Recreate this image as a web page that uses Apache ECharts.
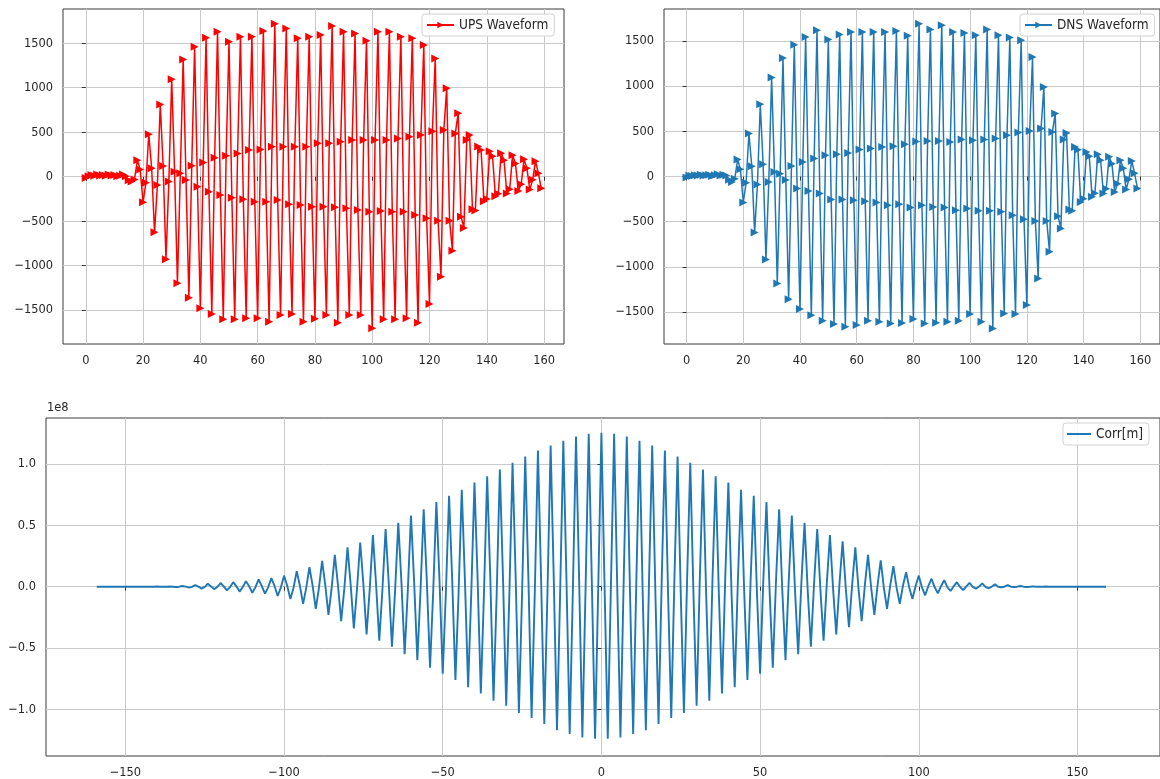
<!DOCTYPE html>
<html><head><meta charset="utf-8">
<script src="https://cdn.jsdelivr.net/npm/echarts@6/dist/echarts.min.js"></script>
<style>html,body{margin:0;padding:0;background:#fff}#c{width:1160px;height:779px}</style>
</head><body><div id="c"></div>
<script>
// UPS waveform samples (index 0..159)
const upsValues = [
  -15, 5, 20, 10, 25, 15, 20, 10, 25, 15,
  20, 5, 10, 25, 5, -40, -55, -30, 185, 80,
  -288, -67, 478, 95, -625, -93, 812, 120, -928, -55,
  1095, 56, -1198, 38, 1318, -37, -1359, 123, 1460, -112,
  -1479, 161, 1562, -168, -1543, 213, 1629, -205, -1602, 236,
  1517, -236, -1602, 262, 1573, -254, -1591, 300, 1573, -281,
  -1591, 307, 1637, -281, -1629, 337, 1720, -262, -1554, 337,
  1667, -310, -1543, 337, 1555, -317, -1629, 337, 1573, -337,
  -1595, 375, 1592, -337, -1554, 375, 1693, -344, -1640, 393,
  1629, -355, -1554, 412, 1611, -374, -1554, 412, 1528, -393,
  -1703, 412, 1629, -386, -1602, 412, 1629, -393, -1602, 430,
  1573, -393, -1591, 448, 1555, -430, -1640, 468, 1480, -468,
  -1430, 512, 1330, -494, -1124, 524, 993, -494, -831, 486,
  712, -449, -575, 412, 470, -366, -380, 340, 300, -275,
  -250, 285, 230, -220, -190, 265, 185, -188, -140, 240,
  150, -160, -85, 195, 95, -145, -35, 175, 40, -130
];
// DNS waveform samples (index 0..159)
const dnsValues = [
  -10, 10, 5, 15, 10, 20, 10, 15, 20, 5,
  15, 25, 10, 20, 10, -35, -60, -25, 188, 80,
  -287, -70, 475, 114, -619, -88, 799, 136, -917, -60,
  1094, 51, -1182, 30, 1311, -40, -1356, 117, 1458, -133,
  -1466, 161, 1543, -159, -1533, 199, 1617, -188, -1595, 235,
  1514, -254, -1632, 246, 1569, -254, -1662, 261, 1598, -262,
  -1643, 298, 1598, -273, -1595, 309, 1598, -287, -1606, 327,
  1598, -317, -1625, 335, 1609, -306, -1621, 357, 1555, -343,
  -1575, 387, 1690, -317, -1625, 393, 1624, -336, -1617, 393,
  1672, -343, -1606, 382, 1598, -372, -1595, 409, 1587, -354,
  -1521, 401, 1561, -380, -1606, 409, 1624, -380, -1680, 420,
  1561, -391, -1514, 456, 1536, -428, -1521, 486, 1506, -472,
  -1422, 504, 1322, -491, -1127, 530, 990, -491, -833, 493,
  696, -439, -575, 410, 482, -365, -380, 327, 295, -281,
  -245, 272, 225, -225, -185, 246, 180, -188, -135, 217,
  140, -170, -80, 180, 90, -144, -30, 172, 35, -133
];
// Corr[m] in units of 1e8, lags -159..-1
const corrNegLags = [
  0, 0, 0, 0, 0, 0, 0, 0, 0, 0,
  0, 0, 0, 0, 0, 0, 0, 0, 0, 0.001,
  0, -0.001, 0, 0.002, 0, -0.003, 0, 0.006, 0, -0.008,
  -0.001, 0.013, 0.001, -0.016, -0.001, 0.024, 0.002, -0.02, -0.002, 0.03,
  0.002, -0.03, -0.003, 0.037, 0.003, -0.04, -0.003, 0.045, 0.004, -0.05,
  -0.004, 0.059, 0.005, -0.057, -0.005, 0.07, 0.006, -0.076, -0.006, 0.09,
  0.008, -0.10, -0.008, 0.126, 0.008, -0.14, -0.01, 0.16, 0.01, -0.18,
  -0.01, 0.21, 0.01, -0.23, -0.01, 0.26, 0.01, -0.28, -0.015, 0.32,
  0.015, -0.34, -0.015, 0.36, 0.02, -0.39, -0.02, 0.42, 0.02, -0.44,
  -0.025, 0.47, 0.025, -0.49, -0.03, 0.52, 0.03, -0.55, -0.03, 0.58,
  0.035, -0.60, -0.035, 0.63, 0.04, -0.66, -0.04, 0.69, 0.04, -0.71,
  -0.045, 0.74, 0.045, -0.76, -0.05, 0.79, 0.05, -0.82, -0.05, 0.85,
  0.055, -0.87, -0.055, 0.90, 0.06, -0.93, -0.06, 0.955, 0.06, -0.97,
  -0.06, 1.01, 0.06, -1.03, -0.06, 1.06, 0.06, -1.07, -0.055, 1.11,
  0.055, -1.12, -0.05, 1.15, 0.05, -1.17, -0.045, 1.19, 0.04, -1.20,
  -0.035, 1.225, 0.03, -1.23, -0.02, 1.247, 0.015, -1.24, -0.005
];
// Corr[m] in units of 1e8, lags 0..159
const corrPosLags = [
  1.255, -0.005, -1.24, 0.015, 1.247, -0.02, -1.23, 0.03, 1.225, -0.035,
  -1.20, 0.04, 1.19, -0.045, -1.17, 0.05, 1.15, -0.05, -1.12, 0.055,
  1.11, -0.055, -1.07, 0.06, 1.06, -0.06, -1.03, 0.06, 1.01, -0.06,
  -0.97, 0.06, 0.955, -0.06, -0.93, 0.06, 0.90, -0.055, -0.87, 0.055,
  0.85, -0.05, -0.82, 0.05, 0.79, -0.05, -0.76, 0.045, 0.74, -0.045,
  -0.71, 0.04, 0.69, -0.04, -0.66, 0.04, 0.63, -0.035, -0.60, 0.035,
  0.58, -0.03, -0.55, 0.03, 0.52, -0.03, -0.49, 0.025, 0.47, -0.025,
  -0.44, 0.02, 0.42, -0.02, -0.39, 0.02, 0.37, -0.015, -0.33, 0.015,
  0.32, -0.015, -0.28, 0.01, 0.26, -0.01, -0.23, 0.01, 0.215, -0.01,
  -0.18, 0.01, 0.167, -0.008, -0.14, 0.008, 0.118, -0.008, -0.10, 0.006,
  0.09, -0.006, -0.07, 0.005, 0.065, -0.005, -0.054, 0.004, 0.053, -0.004,
  -0.035, 0.003, 0.037, -0.003, -0.027, 0.002, 0.032, -0.002, -0.016, 0.002,
  0.027, -0.001, -0.013, 0.001, 0.019, 0, -0.005, 0, 0.013, 0,
  -0.003, 0, 0.006, 0, -0.002, 0, 0.003, 0, -0.001, 0,
  0.001, 0, 0, 0, 0, 0, 0, 0, 0, 0,
  0, 0, 0, 0, 0, 0, 0, 0, 0, 0
];
const waveXTicks = [0, 20, 40, 60, 80, 100, 120, 140, 160];
const waveYTicks = [-1500, -1000, -500, 0, 500, 1000, 1500];
const corrXTicks = [-150, -100, -50, 0, 50, 100, 150];
const corrYTicks = [-1.0, -0.5, 0, 0.5, 1.0];

const sampleIdx = upsValues.map((_, i) => i);
const corrVals = corrNegLags.concat(corrPosLags);
const lags = corrVals.map((_, i) => i - corrNegLags.length);

const FONT = '"DejaVu Sans Condensed", "DejaVu Sans", sans-serif';
const intFmt = v => (v < 0 ? '\u2212' + Math.abs(v) : String(v));
const decFmt = v => { const s = Math.abs(v).toFixed(1); return v < 0 ? '\u2212' + s : s; };

function axis(type, gi, min, max, ticks, fmt) {
  return {
    type: 'value', gridIndex: gi, min: min, max: max,
    axisLine: { show: false },
    axisTick: { show: true, inside: false, length: 4, customValues: ticks, lineStyle: { color: '#333', width: 1 } },
    axisLabel: { show: true, customValues: ticks, formatter: fmt, color: '#262626', fontSize: 12.7, fontFamily: FONT, margin: 10 },
    splitLine: { show: true, lineStyle: { color: '#cacaca', width: 1 } }
  };
}
const gridStyle = { show: true, borderColor: '#3a3a3a', borderWidth: 1, backgroundColor: 'transparent', containLabel: false };
const legendBase = {
  orient: 'horizontal', itemWidth: 27, itemHeight: 8, itemGap: 5,
  backgroundColor: 'rgba(255,255,255,0.85)', borderColor: '#d2d2d2', borderWidth: 1, borderRadius: 3,
  padding: [4, 6, 4, 4], textStyle: { fontSize: 13.5, fontFamily: FONT, color: '#262626' }
};

const chart = echarts.init(document.getElementById('c'), null, { renderer: 'canvas' });
chart.setOption({
  animation: false,
  backgroundColor: '#fff',
  grid: [
    Object.assign({ left: 63, top: 9, width: 501, height: 335 }, gridStyle),
    Object.assign({ left: 664, top: 9, width: 502, height: 335 }, gridStyle),
    Object.assign({ left: 46, top: 418, width: 1118, height: 340 }, gridStyle)
  ],
  xAxis: [
    axis('x', 0, -7.95, 166.95, waveXTicks, intFmt),
    axis('x', 1, -7.95, 166.95, waveXTicks, intFmt),
    axis('x', 2, -175, 176, corrXTicks, intFmt)
  ],
  yAxis: [
    axis('y', 0, -1880, 1885, waveYTicks, intFmt),
    axis('y', 1, -1852, 1852, waveYTicks, intFmt),
    axis('y', 2, -1.38, 1.375, corrYTicks, decFmt)
  ],
  legend: [
    Object.assign({ data: ['UPS Waveform'], left: 422, top: 14 }, legendBase),
    Object.assign({ data: ['DNS Waveform'], left: 1020, top: 14 }, legendBase),
    Object.assign({}, legendBase, { data: [{ name: 'Corr[m]', icon: 'rect' }], left: 1063, top: 423, itemWidth: 24, itemHeight: 2 })
  ],
  graphic: [{ type: 'text', left: 47, top: 401, style: { text: '1e8', fontSize: 12.7, fontFamily: FONT, fill: '#262626' } }],
  series: [
    {
      name: 'UPS Waveform', type: 'line', xAxisIndex: 0, yAxisIndex: 0,
      data: sampleIdx.map((x, i) => [x, upsValues[i]]),
      symbol: 'triangle', symbolSize: 8, symbolRotate: -90, showAllSymbol: true,
      lineStyle: { color: '#ff0000', width: 1.5 }, itemStyle: { color: '#ff0000' },
      emphasis: { disabled: true }
    },
    {
      name: 'DNS Waveform', type: 'line', xAxisIndex: 1, yAxisIndex: 1,
      data: sampleIdx.map((x, i) => [x, dnsValues[i]]),
      symbol: 'triangle', symbolSize: 8, symbolRotate: -90, showAllSymbol: true,
      lineStyle: { color: '#1f77b4', width: 1.5 }, itemStyle: { color: '#1f77b4' },
      emphasis: { disabled: true }
    },
    {
      name: 'Corr[m]', type: 'line', xAxisIndex: 2, yAxisIndex: 2,
      data: lags.map((m, i) => [m, corrVals[i]]),
      showSymbol: false, symbol: 'none',
      lineStyle: { color: '#1f77b4', width: 1.9 }, itemStyle: { color: '#1f77b4' },
      emphasis: { disabled: true }
    }
  ]
});
</script>
</body></html>
